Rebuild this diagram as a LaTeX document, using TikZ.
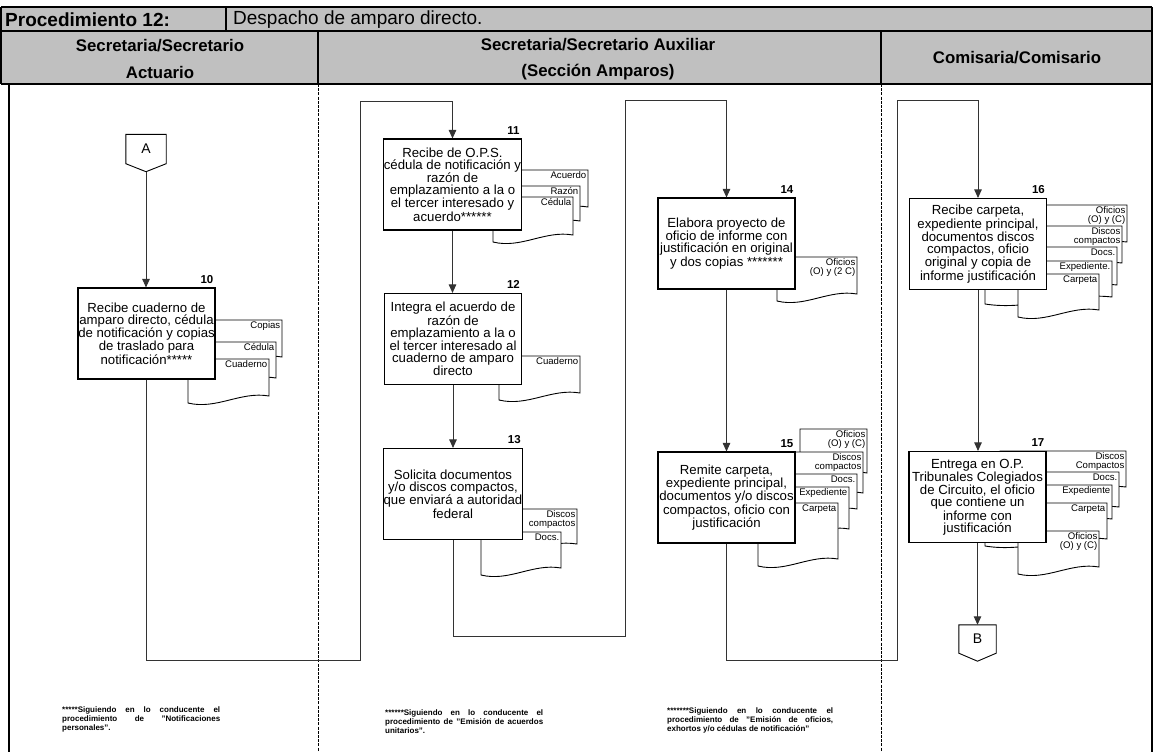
\documentclass[tikz,border=0pt]{standalone}
\usepackage{fontspec}
\setmainfont{Liberation Sans}
\usetikzlibrary{arrows.meta,calc}
\tolerance=10000
\hbadness=10000
\definecolor{hdrgray}{HTML}{C0C0C0}
\definecolor{flowgray}{HTML}{333333}

% one sheet of a document stack: name, left, top, right, bottom (left end of the wave), label
\newcommand{\docsheet}[6]{%
  \draw[docline] (#2,#3) -- (#4,#3) -- (#4,{#5-7})
    .. controls ({#4-0.35*(#4-#2)},{#5-12}) and ({#2+0.35*(#4-#2)},{#5+7}) .. (#2,#5) -- cycle;
  \node[doclabel] (#1) at ({#4-1.5},{#3+1.5}) {#6};
}

\tikzset{
  frameline/.style={draw=black, line width=1.3pt},
  lanesep/.style={draw=black, line width=0.8pt, dash pattern=on 3pt off 1.2pt},
  hdrtitle/.style={font=\fontsize{19}{21}\selectfont\bfseries, inner sep=0pt, anchor=west},
  hdrtext/.style={font=\fontsize{19}{21}\selectfont, inner sep=0pt, anchor=west},
  lanehead/.style={font=\fontsize{16.8}{26.5}\selectfont\bfseries, inner sep=0pt, align=center},
  stepbox/.style={draw=black, line width=1.1pt, fill=white, minimum width=137pt,
    minimum height=91pt, inner sep=0pt, align=center, font=\fontsize{13.2}{12}\selectfont},
  stepnum/.style={font=\fontsize{11.5}{12}\selectfont\bfseries, inner sep=0pt, anchor=south east},
  docline/.style={draw=black, line width=0.9pt, fill=white},
  doclabel/.style={font=\fontsize{9.6}{9}\selectfont, inner sep=0pt, anchor=north east, align=right},
  flow/.style={draw=flowgray, line width=0.9pt},
  arrowflow/.style={flow, -{Triangle[width=7.5pt,length=8.5pt]}},
  offpage/.style={minimum width=40pt, minimum height=29pt, inner sep=0pt,
    font=\fontsize{14}{16}\selectfont},
  connline/.style={draw=black, line width=0.9pt, fill=white},
  note/.style={font=\fontsize{8}{9.4}\selectfont\bfseries, align=justify,
    inner sep=0pt, anchor=north west},
}

\begin{document}
\begin{tikzpicture}[x=1pt,y=-1pt]
\useasboundingbox (0,0) rectangle (1154,752);

% ---------- header ----------
\fill[hdrgray] (1,7) rectangle (1152,84);
\draw[frameline] (1,7) -- (1152,7);
\draw[frameline] (1,31) -- (1152,31);
\draw[frameline] (1,84) -- (1152,84);
\draw[frameline] (226,7) -- (226,31);
\draw[frameline] (318,31) -- (318,84);
\draw[frameline] (881,31) -- (881,84);
\draw[frameline] (1,7) -- (1,84);
\draw[frameline] (9,84) -- (9,752);
\draw[frameline] (1152,7) -- (1152,752);

\node[hdrtitle] (proc) at (5,19.5) {Procedimiento 12:};
\node[hdrtext] (desc) at (233,19.5) {Despacho de amparo directo.};
\node[lanehead] (lane1) at (160,59) {Secretaria/Secretario\\Actuario};
\node[lanehead] (lane2) at (598,59) {Secretaria/Secretario Auxiliar\\(Secci\'on Amparos)};
\node[lanehead] (lane3) at (1017,58) {Comisaria/Comisario};

% ---------- lane separators ----------
\draw[lanesep] (318,84) -- (318,752);
\draw[lanesep] (881,84) -- (881,752);

% ---------- document stacks ----------
\docsheet{d10a}{200}{320}{282}{364}{Copias}
\docsheet{d10b}{194}{342}{276}{385}{C\'edula}
\docsheet{d10c}{188}{359}{269}{403}{Cuaderno}

\docsheet{d11a}{505}{170}{588}{214}{Acuerdo}
\docsheet{d11b}{499}{186}{580}{228}{Raz\'on}
\docsheet{d11c}{493}{197}{573}{242}{C\'edula}

\docsheet{d12a}{499}{356}{580}{400}{Cuaderno}

\docsheet{d13a}{490}{509}{577}{551}{Discos\\compactos}
\docsheet{d13b}{481}{532}{561}{575}{Docs.}

\docsheet{d14a}{777}{257}{857}{301}{Oficios\\(O) y (2 C)}

\docsheet{d15a}{800}{429}{867}{480}{Oficios\\(O) y (C)}
\docsheet{d15b}{790}{452}{863}{500}{Discos\\compactos}
\docsheet{d15c}{784}{474}{857}{516}{Docs.}
\docsheet{d15d}{778}{487}{849}{536}{Expediente}
\docsheet{d15e}{758}{503}{838}{566}{Carpeta}

\docsheet{d16a}{1000}{205}{1127}{249}{Oficios\\(O) y (C)}
\docsheet{d16b}{995}{226}{1122}{270}{Discos\\compactos}
\docsheet{d16c}{990}{247}{1117}{292}{Docs.}
\docsheet{d16d}{985}{261}{1112}{304}{Expediente.}
\docsheet{d16e}{1018}{274}{1099}{317}{Carpeta}

\docsheet{d17a}{1000}{451}{1126}{494}{Discos\\Compactos}
\docsheet{d17b}{995}{472}{1119}{514}{Docs.}
\docsheet{d17c}{990}{485}{1112}{526}{Expediente}
\docsheet{d17d}{985}{503}{1107}{546}{Carpeta}
\docsheet{d17e}{1018}{531}{1099}{574}{Oficios\\(O) y (C)}

% ---------- activity boxes ----------
\node[stepbox] (b10) at (146.5,333.5) {Recibe cuaderno de\\amparo directo, c\'edula\\de notificaci\'on y copias\\de traslado para\\notificaci\'on*****};
\node[stepbox] (b11) at (452.5,184.5) {Recibe de O.P.S.\\c\'edula de notificaci\'on y\\raz\'on de\\emplazamiento a la o\\el tercer interesado y\\acuerdo******};
\node[stepbox] (b12) at (453,339) {Integra el acuerdo de\\raz\'on de\\emplazamiento a la o\\el tercer interesado al\\cuaderno de amparo\\directo};
\node[stepbox] (b13) at (453,494) {Solicita documentos\\y/o discos compactos,\\que enviar\'a a autoridad\\federal};
\node[stepbox] (b14) at (726.5,243.5) {Elabora proyecto de\\oficio de informe con\\justificaci\'on en original\\y dos copias *******};
\node[stepbox] (b15) at (726.5,497.5) {Remite carpeta,\\expediente principal,\\documentos y/o discos\\compactos, oficio con\\justificaci\'on};
\node[stepbox] (b16) at (978,244) {Recibe carpeta,\\expediente principal,\\documentos discos\\compactos, oficio\\original y copia de\\informe justificaci\'on};
\node[stepbox] (b17) at (977.5,497) {Entrega en O.P.\\Tribunales Colegiados\\de Circuito, el oficio\\que contiene un\\informe con\\justificaci\'on};

\foreach \b/\n in {b10/10,b11/11,b12/12,b13/13,b14/14,b15/15,b16/16,b17/17}
  \node[stepnum] (n\n) at ([xshift=-2pt,yshift=4pt]\b.north east) {\n};

% ---------- off-page connectors ----------
\node[offpage] (A) at (146,149) {};
\draw[connline] (A.north west) -- (A.north east) -- (A.south east)
  -- ($(A.south)+(0,8)$) -- (A.south west) -- cycle;
\node[offpage] (Alabel) at (A) {A};
\coordinate (Atip) at ($(A.south)+(0,8)$);

\node[offpage, minimum width=37pt, minimum height=28pt] (B) at (977.5,639) {};
\draw[connline] (B.north west) -- (B.north east) -- (B.south east)
  -- ($(B.south)+(0,8)$) -- (B.south west) -- cycle;
\node[offpage] (Blabel) at (B) {B};

% ---------- connectors ----------
\coordinate (w1) at (360,660);
\coordinate (w2) at (360,101);
\coordinate (w3) at (625,636);
\coordinate (w4) at (625,100);
\coordinate (w5) at (897,660);
\coordinate (w6) at (897,100);

\draw[arrowflow] (Atip) -- (Atip |- b10.north);
\draw[arrowflow] (b10.south) |- (w1) -- (w2) -| (b11.north);
\draw[arrowflow] (b11.south) -- (b11.south |- b12.north);
\draw[arrowflow] (b12.south) -- (b12.south |- b13.north);
\draw[arrowflow] (b13.south) |- (w3) -- (w4) -| (b14.north);
\draw[arrowflow] (b14.south) -- (b14.south |- b15.north);
\draw[arrowflow] (b15.south) |- (w5) -- (w6) -| (b16.north);
\draw[arrowflow] (b16.south) -- (b16.south |- b17.north);
\draw[arrowflow] (b17.south) -- (b17.south |- B.north);

% ---------- footnotes ----------
\node[note, text width=158pt] (f1) at (62,706) {*****Siguiendo en lo conducente el\linebreak procedimiento de "Notificaciones\linebreak personales".};
\node[note, text width=158pt] (f2) at (385,709) {******Siguiendo en lo conducente el\linebreak procedimiento de "Emisi\'on de acuerdos\linebreak unitarios".};
\node[note, text width=166pt] (f3) at (667,707) {*******Siguiendo en lo conducente el\linebreak procedimiento de "Emisi\'on de oficios,\linebreak exhortos y/o c\'edulas de notificaci\'on"};
\end{tikzpicture}
\end{document}
